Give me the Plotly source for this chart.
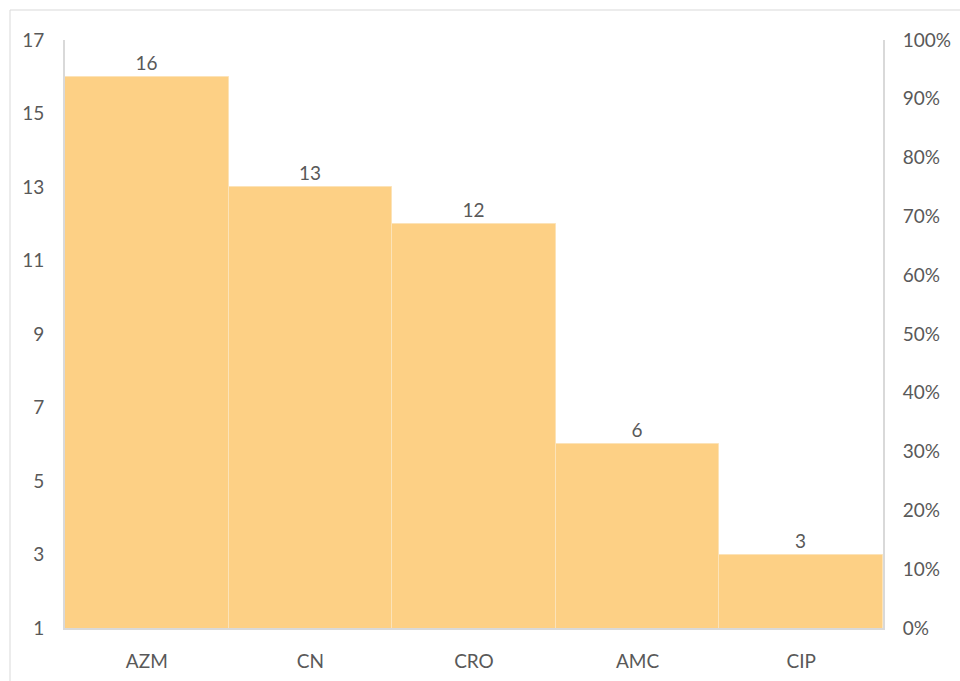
import plotly.graph_objects as go

categories = ["AZM", "CN", "CRO", "AMC", "CIP"]
counts = [16, 13, 12, 6, 3]
left_ticks = [1, 3, 5, 7, 9, 11, 13, 15, 17]
right_ticks = [0, 0.1, 0.2, 0.3, 0.4, 0.5, 0.6, 0.7, 0.8, 0.9, 1.0]

grey = "#595959"
font = dict(family="Lato, 'Open Sans', sans-serif", size=19, color=grey)

fig = go.Figure()
fig.add_trace(go.Bar(
    x=categories, y=counts,
    marker=dict(color="#FDD085", line=dict(color="#FCE3B8", width=1)),
    text=[str(v) for v in counts], textposition="outside",
    textfont=dict(family=font["family"], size=19, color=grey),
    cliponaxis=False, hoverinfo="skip",
))
fig.add_trace(go.Scatter(x=categories, y=[None] * len(categories), yaxis="y2",
                         showlegend=False, hoverinfo="skip"))

W, H = 960, 681
l, r, t, b = 65, 77, 40, 53
pw, ph = W - l - r, H - t - b

fig.update_layout(
    width=W, height=H,
    margin=dict(l=l, r=r, t=t, b=b),
    paper_bgcolor="white", plot_bgcolor="white",
    showlegend=False, bargap=0, font=font,
    xaxis=dict(showline=True, linecolor="#D9D9D9", linewidth=2, ticks="",
               showgrid=False, ticklabelstandoff=15, tickfont=font, automargin=False),
    yaxis=dict(range=[1, 17], tickvals=left_ticks, showgrid=False, zeroline=False,
               showline=True, linecolor="#D9D9D9", linewidth=2, ticks="",
               ticklabelstandoff=15, tickfont=font, automargin=False),
    yaxis2=dict(range=[0, 1], tickvals=right_ticks, tickformat=".0%", overlaying="y",
                side="right", showgrid=False, zeroline=False, showline=True,
                linecolor="#D9D9D9", linewidth=2, ticks="", ticklabelstandoff=14,
                tickfont=font, automargin=False),
)
fig.add_shape(type="rect", xref="paper", yref="paper",
              x0=(10 - l) / pw, x1=1 + (W + 5 - (W - r)) / pw,
              y0=-(H + 5 - (H - b)) / ph, y1=1 + (t - 10) / ph,
              line=dict(color="#D9D9D9", width=1), layer="below")

fig.write_html("out.html")
